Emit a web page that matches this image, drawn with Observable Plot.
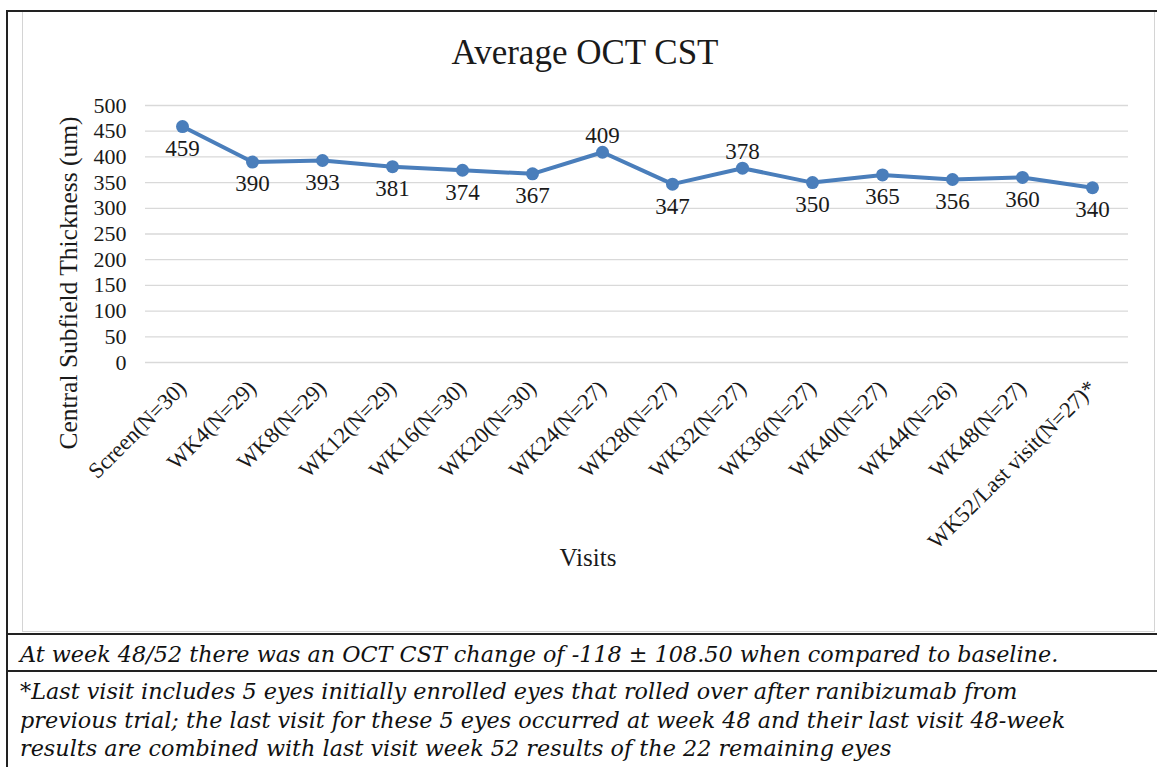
<!DOCTYPE html>
<html><head><meta charset="utf-8">
<script src="https://cdn.jsdelivr.net/npm/d3@7"></script>
<script src="https://cdn.jsdelivr.net/npm/@observablehq/plot@0.6"></script>
<style>
html,body{margin:0;padding:0;background:#fff;}
body{width:1157px;height:767px;overflow:hidden;position:relative;font-family:"Liberation Serif","Times New Roman",serif;color:#1a1a1a;}
.abs{position:absolute;}
#vline{left:6px;top:10px;width:2px;height:760px;background:#222;}
#hline0{left:6px;top:10px;width:1160px;height:2px;background:#222;}
#hline1{left:6px;top:633px;width:1160px;height:2px;background:#222;}
#hline2{left:6px;top:670px;width:1160px;height:2px;background:#222;}
#frame{left:22px;top:12px;width:1131px;height:619px;border:1px solid #d4d4d4;border-top:none;box-sizing:content-box;}
#chart{left:22px;top:12px;width:1132px;height:620px;}
#title{left:22px;top:33px;width:1126px;text-align:center;font-size:35px;line-height:40px;}
#xlabel{left:22px;top:544px;width:1132px;text-align:center;font-size:25px;line-height:28px;}
#ylabel{left:69px;top:283px;transform:translate(-50%,-50%) rotate(-90deg);white-space:nowrap;font-size:25.5px;line-height:28px;}
.foot{left:20px;font-family:"DejaVu Serif",serif;font-style:italic;font-size:22.3px;line-height:28px;white-space:nowrap;color:#111;}
#f1{top:640px;}
#f2{top:677px;}
#f3{top:706px;}
#f4{top:734px;}
</style>
</head><body>
<div id="frame" class="abs"></div>
<div id="chart" class="abs"></div>
<div id="title" class="abs">Average OCT CST</div>
<div id="xlabel" class="abs">Visits</div>
<div id="ylabel" class="abs">Central Subfield Thickness (um)</div>
<div id="vline" class="abs"></div>
<div id="hline0" class="abs"></div>
<div id="hline1" class="abs"></div>
<div id="hline2" class="abs"></div>
<div id="f1" class="abs foot">At week 48/52 there was an OCT CST change of -118 ± 108.50 when compared to baseline.</div>
<div id="f2" class="abs foot">*Last visit includes 5 eyes initially enrolled eyes that rolled over after ranibizumab from</div>
<div id="f3" class="abs foot">previous trial; the last visit for these 5 eyes occurred at week 48 and their last visit 48-week</div>
<div id="f4" class="abs foot">results are combined with last visit week 52 results of the 22 remaining eyes</div>
<script>
const visits = ["Screen(N=30)","WK4(N=29)","WK8(N=29)","WK12(N=29)","WK16(N=30)","WK20(N=30)","WK24(N=27)","WK28(N=27)","WK32(N=27)","WK36(N=27)","WK40(N=27)","WK44(N=26)","WK48(N=27)","WK52/Last visit(N=27)*"];
const cst = [459,390,393,381,374,367,409,347,378,350,365,356,360,340];
const yTicks = [0,50,100,150,200,250,300,350,400,450,500];
const labelsAbove = ["WK24(N=27)","WK32(N=27)"];

const data = visits.map((v,i)=>({visit:v, cst:cst[i], above:labelsAbove.includes(v)}));
const blue = "#4A7EBB";

const chart = Plot.plot({
  width:1132, height:620,
  marginLeft:123, marginRight:26, marginTop:93, marginBottom:270,
  style:{fontFamily:"'Liberation Serif','Times New Roman',serif", fontSize:"22px", color:"#1a1a1a", background:"transparent", overflow:"visible"},
  x:{type:"point", domain:visits, padding:0.5, label:null, tickSize:0, tickPadding:22, tickRotate:-45},
  y:{domain:[0,500], ticks:yTicks, label:null, tickSize:0, tickPadding:19},
  marks:[
    Plot.ruleY(yTicks,{stroke:"#d9d9d9", strokeWidth:1.3}),
    Plot.line(data,{x:"visit", y:"cst", stroke:blue, strokeWidth:4}),
    Plot.dot(data,{x:"visit", y:"cst", fill:blue, r:6.5}),
    Plot.text(data.filter(d=>!d.above),{x:"visit", y:"cst", text:d=>String(d.cst), dy:22, fontSize:23, fill:"#1a1a1a"}),
    Plot.text(data.filter(d=>d.above),{x:"visit", y:"cst", text:d=>String(d.cst), dy:-17, fontSize:23, fill:"#1a1a1a"})
  ]
});
chart.querySelectorAll("g[aria-label='x-axis tick label'] text").forEach(t=>t.setAttribute("font-size","22.5"));
document.getElementById("chart").appendChild(chart);
</script>
</body></html>
